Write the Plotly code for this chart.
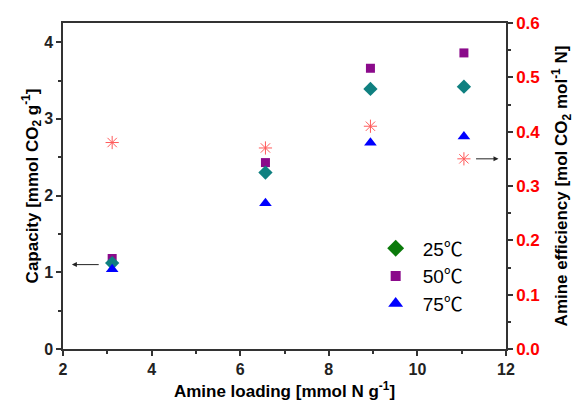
import plotly.graph_objects as go

# Amine loading (mmol N / g)
loading = [3.11, 6.57, 8.94, 11.05]

# CO2 capacity (mmol CO2 / g) at each temperature
cap_25 = [1.12, 2.30, 3.39, 3.42]
cap_50 = [1.18, 2.43, 3.66, 3.86]
cap_75 = [1.04, 1.90, 2.69, 2.77]

# Amine efficiency (mol CO2 / mol N)
efficiency = [0.38, 0.37, 0.41, 0.35]

temperatures = ["25", "50", "75"]

TEAL = "#0f8080"
GREEN = "#0a7a0a"
PURPLE = "#8b0a8b"
BLUE = "#0000ff"
STAR = "#ff5a5a"

FONT = "Arial, Liberation Sans"

fig = go.Figure()

series = [
    (cap_50, "square", PURPLE, 9),
    (cap_25, "diamond", TEAL, 11),
    (cap_75, "triangle-up", BLUE, 11),
]
for vals, sym, col, sz in series:
    fig.add_trace(go.Scatter(x=loading, y=vals, mode="markers",
                             marker=dict(symbol=sym, color=col, size=sz),
                             showlegend=False))

fig.add_trace(go.Scatter(x=loading, y=efficiency, mode="markers", yaxis="y2",
                         marker=dict(symbol="asterisk-open", size=11, color=STAR,
                                     line=dict(color=STAR, width=1.0)),
                         showlegend=False))

# legend entries
for t, sym, col, sz in zip(temperatures,
                           ["diamond", "square", "triangle-up"],
                           [GREEN, PURPLE, BLUE], [13, 10, 13]):
    label = t + "<span style='font-family:Noto Sans CJK SC'>℃</span>"
    fig.add_trace(go.Scatter(x=[None], y=[None], mode="markers", name=label,
                             marker=dict(symbol=sym, color=col, size=sz)))

tick_font = dict(family=FONT, size=16, color="#222", weight="bold")
title_font = dict(family=FONT, size=17, color="black", weight="bold")
line_style = dict(ticks="outside", ticklen=5, tickwidth=1.5, tickcolor="#333",
                  showline=True, linecolor="#333", linewidth=1.5,
                  showgrid=False, zeroline=False, automargin=False)
minor_style = dict(ticks="outside", ticklen=3, tickcolor="#333", tickwidth=1.5)

fig.update_layout(
    width=574, height=401,
    margin=dict(l=63, r=68, t=23, b=52),
    plot_bgcolor="white", paper_bgcolor="white",
    showlegend=True,
    legend=dict(x=0.69, y=0.367, xanchor="left", yanchor="top",
                bgcolor="rgba(0,0,0,0)", borderwidth=0,
                font=dict(family=FONT, size=19, color="black"),
                itemsizing="trace", itemwidth=44, tracegroupgap=0),
    xaxis=dict(range=[2, 12], tickvals=[2, 4, 6, 8, 10, 12], mirror=True,
               tickfont=tick_font,
               minor=dict(tickvals=[3, 5, 7, 9, 11], **minor_style),
               title=dict(text="Amine loading [mmol N g<sup>-1</sup>]",
                          font=title_font, standoff=12),
               **line_style),
    yaxis=dict(range=[0, 4.25], tickvals=[0, 1, 2, 3, 4],
               tickfont=tick_font,
               minor=dict(tickvals=[0.5, 1.5, 2.5, 3.5], **minor_style),
               title=dict(text="Capacity [mmol CO<sub>2</sub> g<sup>-1</sup>]",
                          font=title_font, standoff=0),
               **line_style),
    yaxis2=dict(range=[0, 0.6], overlaying="y", side="right",
                tickvals=[0, 0.1, 0.2, 0.3, 0.4, 0.5, 0.6], tickformat=".1f",
                tickfont=dict(family=FONT, size=17, color="#ff0000", weight="bold"),
                minor=dict(tickvals=[0.05, 0.15, 0.25, 0.35, 0.45, 0.55], **minor_style),
                title=dict(text="Amine efficiency [mol CO<sub>2</sub> mol<sup>-1</sup> N]",
                           font=title_font, standoff=22),
                **line_style),
)

# arrows pointing to the relevant axis
fig.add_annotation(x=2.2, y=1.1, ax=2.84, ay=1.1, xref="x", yref="y",
                   axref="x", ayref="y", text="", showarrow=True,
                   arrowhead=2, arrowsize=1, arrowwidth=1, arrowcolor="#222")
fig.add_annotation(x=11.83, y=0.35, ax=11.29, ay=0.35, xref="x", yref="y2",
                   axref="x", ayref="y2", text="", showarrow=True,
                   arrowhead=2, arrowsize=1, arrowwidth=1, arrowcolor="#222")

fig.write_html("out.html")
